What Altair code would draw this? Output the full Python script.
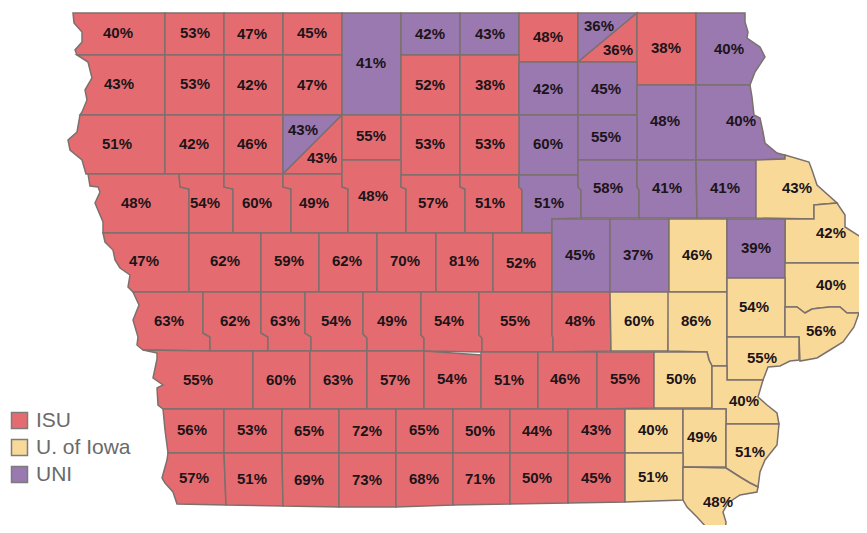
import altair as alt

ISU, UI, UNI = "ISU", "U. of Iowa", "UNI"
GROUPS = [ISU, UI, UNI]
COLORS = ["#E46C70", "#F8D998", "#9A78B0"]

# shared wavy edge between the two yellow river counties
WAVE = [[797, 307], [805, 313], [812, 309], [820, 308], [830, 307], [840, 307], [847, 313], [859, 313]]

REGION_OWNER = [
    ISU, ISU, ISU, ISU,
    ISU, ISU, ISU, ISU,
    ISU, ISU, ISU, UNI, ISU,
    UNI, UNI, UNI, ISU, UNI, ISU, ISU, UNI,
    ISU, ISU, UNI, UNI, UNI,
    ISU, ISU, UNI, UNI, ISU,
    ISU, ISU, ISU, ISU, ISU, ISU, ISU, UNI, UNI, UNI, UNI, UNI, UI,
    UI, ISU, ISU, ISU, ISU, ISU, ISU, ISU, UNI, UNI, UI, UNI, UI,
    ISU, ISU, ISU, ISU, ISU, ISU, ISU, ISU, UI, UI, UI, UI,
    ISU, ISU, ISU, ISU, ISU, ISU, ISU, ISU, UI, UI, UI,
    ISU, ISU, ISU, ISU, ISU, ISU, ISU, ISU, UI, UI, UI,
    ISU, ISU, ISU, ISU, ISU, ISU, ISU, ISU, UI, UI,
]

REGION_SHAPE = [
    # row 1
    [[73, 13], [165, 13], [165, 55], [77, 55], [75, 50], [82, 42], [82, 32], [74, 23]],
    [[165, 13], [224, 13], [224, 55], [165, 55]],
    [[224, 13], [283, 13], [283, 55], [224, 55]],
    [[283, 13], [342, 13], [342, 55], [283, 55]],
    # row 2
    [[77, 55], [165, 55], [165, 115], [80, 115], [82, 112], [87, 100], [85, 90], [92, 78], [88, 62]],
    [[165, 55], [224, 55], [224, 115], [165, 115]],
    [[224, 55], [283, 55], [283, 115], [224, 115]],
    [[283, 55], [342, 55], [342, 115], [283, 115]],
    # row 3
    [[80, 115], [165, 115], [165, 174], [86, 174], [82, 160], [70, 150], [68, 140], [77, 132]],
    [[165, 115], [224, 115], [224, 174], [165, 174]],
    [[224, 115], [283, 115], [283, 174], [224, 174]],
    [[283, 115], [342, 115], [283, 174]],
    [[342, 115], [342, 174], [283, 174]],
    # centre north
    [[342, 13], [401, 13], [401, 115], [342, 115]],
    [[401, 13], [460, 13], [460, 55], [401, 55]],
    [[460, 13], [519, 13], [519, 55], [460, 55]],
    [[519, 13], [578, 13], [578, 62], [519, 62]],
    [[578, 13], [637, 13], [578, 62]],
    [[637, 13], [637, 62], [578, 62]],
    [[637, 13], [696, 13], [696, 85], [637, 85]],
    [[696, 13], [745, 13], [745, 22], [748, 32], [747, 38], [760, 47], [765, 57], [755, 72], [750, 85], [696, 85]],
    [[401, 55], [460, 55], [460, 115], [401, 115]],
    [[460, 55], [519, 55], [519, 115], [460, 115]],
    [[519, 62], [578, 62], [578, 115], [519, 115]],
    [[578, 62], [637, 62], [637, 115], [578, 115]],
    [[637, 85], [696, 85], [696, 160], [637, 160]],
    # row 3 centre
    [[342, 115], [401, 115], [401, 160], [342, 160]],
    [[401, 115], [460, 115], [460, 175], [401, 175]],
    [[519, 115], [578, 115], [578, 175], [519, 175]],
    [[578, 115], [637, 115], [637, 160], [578, 160]],
    [[460, 115], [519, 115], [519, 175], [460, 175]],
    # row 4
    [[88, 174], [179, 174], [180, 187], [189, 189], [189, 233], [103, 233], [103, 222], [95, 203], [100, 192], [98, 187], [90, 186]],
    [[179, 174], [224, 174], [224, 187], [233, 189], [233, 233], [189, 233], [189, 189], [180, 187]],
    [[224, 174], [283, 174], [283, 187], [291, 189], [291, 233], [233, 233], [233, 189], [224, 187]],
    [[283, 174], [342, 174], [342, 187], [348, 189], [348, 233], [291, 233], [291, 189], [283, 187]],
    [[342, 160], [401, 160], [401, 187], [406, 189], [406, 233], [348, 233], [348, 189], [342, 187]],
    [[401, 175], [460, 175], [460, 187], [465, 189], [465, 233], [406, 233], [406, 189], [401, 187]],
    [[460, 175], [519, 175], [519, 187], [522, 190], [522, 233], [465, 233], [465, 189], [460, 187]],
    [[519, 175], [578, 175], [578, 187], [581, 190], [581, 218], [552, 219], [552, 233], [522, 233], [522, 190], [519, 187]],
    [[578, 160], [637, 160], [637, 187], [639, 190], [639, 218], [581, 218], [581, 190], [578, 187]],
    [[637, 160], [696, 160], [697, 218], [639, 218], [639, 190], [637, 187]],
    [[696, 160], [696, 85], [750, 85], [752, 97], [754, 115], [760, 118], [763, 132], [765, 143], [777, 153], [785, 155], [785, 159], [756, 160]],
    [[696, 160], [756, 160], [756, 218], [697, 218]],
    [[756, 160], [785, 159], [785, 155], [809, 162], [812, 170], [817, 185], [837, 203], [814, 205], [814, 219], [756, 218]],
    # row 5
    [[785, 219], [814, 219], [814, 205], [837, 203], [845, 215], [845, 227], [867, 241], [867, 263], [785, 263]],
    [[103, 233], [189, 233], [189, 292], [133, 292], [128, 287], [130, 275], [120, 268], [115, 260], [113, 250], [105, 242]],
    [[189, 233], [261, 233], [261, 292], [189, 292]],
    [[261, 233], [319, 233], [319, 292], [261, 292]],
    [[319, 233], [377, 233], [377, 292], [319, 292]],
    [[377, 233], [436, 233], [436, 292], [377, 292]],
    [[436, 233], [493, 233], [493, 292], [436, 292]],
    [[493, 233], [552, 233], [552, 292], [493, 292]],
    [[552, 219], [610, 219], [610, 292], [552, 292]],
    [[610, 219], [669, 219], [669, 292], [610, 292]],
    [[669, 219], [727, 219], [727, 292], [669, 292]],
    [[727, 219], [785, 219], [785, 278], [727, 278]],
    [[785, 263], [867, 263], [867, 295], [859, 313]] + WAVE[::-1] + [[785, 307]],
    # row 6
    [[133, 292], [203, 292], [203, 333], [210, 337], [210, 351], [143, 350], [137, 345], [138, 337], [133, 320], [139, 305]],
    [[203, 292], [261, 292], [261, 333], [268, 337], [268, 351], [210, 351], [210, 337], [203, 333]],
    [[261, 292], [305, 292], [305, 333], [311, 337], [311, 351], [268, 351], [268, 337], [261, 333]],
    [[305, 292], [363, 292], [363, 334], [367, 338], [367, 351], [311, 351], [311, 337], [305, 333]],
    [[363, 292], [421, 292], [421, 335], [424, 338], [424, 351], [367, 351], [367, 338], [363, 334]],
    [[421, 292], [479, 292], [479, 335], [482, 338], [482, 352], [424, 351], [424, 338], [421, 335]],
    [[479, 292], [552, 292], [552, 335], [553, 338], [553, 352], [482, 352], [482, 338], [479, 335]],
    [[552, 292], [610, 292], [611, 351], [553, 352], [553, 338], [552, 335]],
    [[610, 292], [669, 292], [668, 351], [611, 351]],
    [[668, 292], [727, 292], [727, 366], [712, 366], [709, 360], [707, 352], [668, 351]],
    [[727, 278], [785, 278], [785, 337], [727, 337]],
    [[785, 307], [797, 307]] + WAVE[1:] + [[854, 327], [843, 342], [830, 350], [817, 358], [800, 361], [799, 337], [785, 337]],
    # row 7
    [[143, 350], [210, 351], [253, 351], [253, 409], [163, 409], [158, 405], [157, 388], [163, 385], [153, 378], [157, 359], [157, 353]],
    [[253, 351], [310, 351], [310, 409], [253, 409]],
    [[310, 351], [367, 351], [367, 409], [310, 409]],
    [[367, 351], [424, 351], [424, 409], [367, 409]],
    [[424, 351], [481, 355], [481, 409], [424, 409]],
    [[481, 352], [538, 352], [538, 409], [481, 409]],
    [[538, 352], [597, 352], [597, 409], [538, 409]],
    [[597, 352], [654, 352], [654, 408], [597, 409]],
    [[654, 352], [707, 352], [709, 360], [712, 366], [712, 408], [654, 408]],
    [[727, 337], [799, 337], [799, 360], [790, 361], [780, 366], [768, 367], [763, 380], [727, 380]],
    [[712, 366], [727, 366], [727, 380], [763, 380], [758, 397], [767, 405], [777, 413], [779, 424], [726, 424], [726, 409], [712, 409]],
    # row 8
    [[163, 409], [224, 409], [224, 453], [168, 453], [165, 430]],
    [[224, 409], [282, 409], [282, 453], [224, 453]],
    [[282, 409], [339, 409], [339, 453], [282, 453]],
    [[339, 409], [396, 409], [396, 453], [339, 453]],
    [[396, 409], [453, 409], [453, 453], [396, 453]],
    [[453, 409], [510, 409], [510, 453], [453, 453]],
    [[510, 409], [568, 409], [568, 453], [510, 453]],
    [[568, 409], [625, 409], [625, 453], [568, 453]],
    [[625, 409], [683, 409], [683, 453], [625, 453]],
    [[683, 409], [726, 409], [726, 467], [683, 467]],
    [[726, 424], [779, 424], [777, 445], [765, 460], [760, 472], [758, 487], [750, 483], [740, 477], [726, 468]],
    # row 9
    [[168, 453], [224, 453], [226, 505], [177, 504], [173, 492], [165, 483], [162, 478], [167, 460]],
    [[224, 453], [282, 453], [283, 506], [226, 505]],
    [[282, 453], [339, 453], [339, 507], [283, 506]],
    [[339, 453], [396, 453], [396, 507], [339, 507]],
    [[396, 453], [453, 453], [453, 505], [396, 507]],
    [[453, 453], [510, 453], [510, 504], [453, 505]],
    [[510, 453], [568, 453], [568, 503], [510, 504]],
    [[568, 453], [625, 453], [625, 502], [568, 503]],
    [[625, 453], [683, 453], [683, 500], [625, 502]],
    [[683, 467], [726, 468], [740, 477], [750, 483], [758, 487], [757, 492], [740, 495], [728, 503], [723, 512], [726, 522], [725, 535], [708, 535], [707, 528], [697, 517], [687, 507], [683, 500]],
]

LABEL_TEXT = [
    "40%", "53%", "47%", "45%", "43%", "53%", "42%", "47%", "51%", "42%", "46%", "43%", "43%",
    "41%", "42%", "43%", "48%", "36%", "36%", "38%", "40%", "52%", "38%", "42%", "45%", "48%", "40%",
    "55%", "53%", "53%", "60%", "55%",
    "48%", "54%", "60%", "49%", "48%", "57%", "51%", "51%", "58%", "41%", "41%", "43%",
    "42%", "47%", "62%", "59%", "62%", "70%", "81%", "52%", "45%", "37%", "46%", "39%", "40%",
    "63%", "62%", "63%", "54%", "49%", "54%", "55%", "48%", "60%", "86%", "54%", "56%",
    "55%", "60%", "63%", "57%", "54%", "51%", "46%", "55%", "50%", "55%", "40%",
    "56%", "53%", "65%", "72%", "65%", "50%", "44%", "43%", "40%", "49%", "51%",
    "57%", "51%", "69%", "73%", "68%", "71%", "50%", "45%", "51%", "48%",
]
LABEL_X = [
    118, 195, 252, 312, 119, 195, 252, 312, 117, 194, 252, 303, 322,
    371, 430, 490, 548, 599, 618, 666, 729, 430, 490, 548, 606, 665, 741,
    371, 430, 490, 548, 606,
    136, 205, 257, 314, 373, 433, 490, 549, 608, 667, 725, 797,
    831, 144, 225, 289, 347, 405, 464, 521, 580, 638, 697, 756, 831,
    169, 235, 285, 336, 392, 449, 515, 580, 639, 696, 754, 821,
    198, 281, 338, 395, 452, 509, 565, 625, 681, 762, 744,
    192, 252, 309, 367, 424, 480, 537, 596, 653, 702, 750,
    194, 252, 309, 367, 424, 480, 537, 596, 653, 718,
]
LABEL_Y = [
    33, 33, 34, 33, 84, 84, 85, 85, 144, 144, 144, 130, 158,
    63, 34, 34, 37, 26, 50, 48, 49, 85, 85, 89, 89, 121, 121,
    136, 144, 144, 144, 137,
    203, 203, 203, 203, 196, 203, 203, 203, 188, 188, 188, 188,
    233, 261, 261, 261, 261, 261, 261, 263, 255, 255, 255, 248, 285,
    321, 321, 321, 321, 321, 321, 321, 321, 321, 321, 307, 331,
    380, 380, 380, 380, 379, 380, 379, 379, 379, 358, 401,
    430, 430, 431, 431, 430, 431, 431, 430, 430, 437, 452,
    478, 479, 480, 480, 479, 479, 478, 478, 477, 502,
]

features = [
    {
        "type": "Feature",
        "group": owner,
        "geometry": {"type": "Polygon", "coordinates": [shape + [shape[0]]]},
    }
    for owner, shape in zip(REGION_OWNER, REGION_SHAPE)
]
labels = [{"t": t, "x": x, "y": y} for t, x, y in zip(LABEL_TEXT, LABEL_X, LABEL_Y)]

projection = dict(type="identity", scale=1, translate=[-8, -8])

regions = (
    alt.Chart(alt.Data(values=features))
    .mark_geoshape(stroke="#7C706D", strokeWidth=1.5)
    .encode(
        color=alt.Color(
            "group:N",
            scale=alt.Scale(domain=GROUPS, range=COLORS),
            legend=alt.Legend(
                title=None,
                orient="none",
                legendX=1,
                legendY=402,
                padding=0,
                symbolType="square",
                symbolSize=256,
                symbolStrokeColor="#7C7C7C",
                symbolStrokeWidth=1.5,
                symbolOpacity=1,
                labelFont="Liberation Sans",
                labelFontSize=21,
                labelColor="#6A6A6A",
                labelOffset=6,
                rowPadding=4,
            ),
        )
    )
    .project(**projection)
)

text = (
    alt.Chart(alt.Data(values=labels))
    .mark_text(font="Liberation Sans", fontSize=15, fontWeight="bold", color="#1C1418")
    .encode(longitude="x:Q", latitude="y:Q", text="t:N")
    .project(**projection)
)

chart = (
    alt.layer(regions, text)
    .properties(width=851, height=517, padding=0, autosize="none")
    .configure_view(stroke=None)
)

chart.save("out.html", embed_options={"renderer": "svg", "actions": False})
